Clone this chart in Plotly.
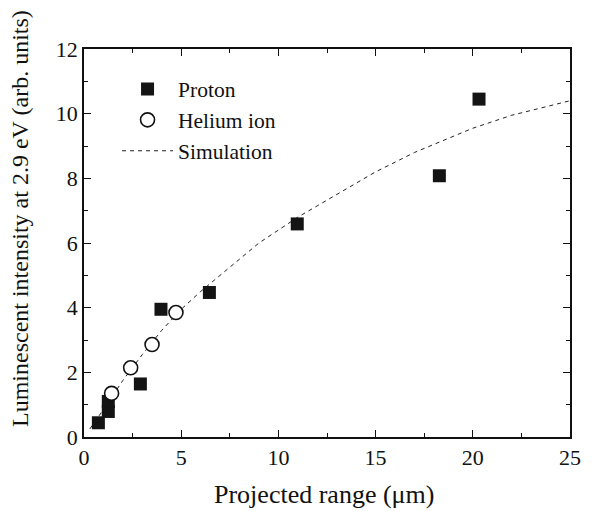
import plotly.graph_objects as go

# Data
proton_x = [0.74, 1.25, 1.25, 2.9, 3.96, 6.45, 10.97, 18.28, 20.32]
proton_y = [0.44, 0.79, 1.10, 1.64, 3.95, 4.47, 6.59, 8.08, 10.45]

helium_x = [1.42, 2.4, 3.5, 4.73]
helium_y = [1.35, 2.14, 2.86, 3.85]

sim_x = [0.3, 1, 2, 3, 4, 5, 6, 7, 8, 9, 10, 11, 12, 13, 14, 15, 16, 17, 18, 19, 20, 21, 22, 23, 24, 25]
sim_y = [0.25, 0.85, 1.75, 2.55, 3.3, 3.95, 4.5, 5.0, 5.5, 6.0, 6.4, 6.8, 7.15, 7.5, 7.85, 8.2, 8.5,
         8.8, 9.05, 9.3, 9.55, 9.75, 9.95, 10.1, 10.25, 10.4]

x_ticks = [0, 5, 10, 15, 20, 25]
y_ticks = [0, 2, 4, 6, 8, 10, 12]

x_title = "Projected range (μm)"
y_title = "Luminescent intensity at 2.9 eV (arb. units)"

FONT = "Liberation Serif, Times New Roman, serif"

fig = go.Figure()
fig.add_trace(go.Scatter(
    x=sim_x, y=sim_y, mode="lines", name="Simulation", legendrank=3,
    line=dict(color="#222", width=1, dash="4px,4px"), legendgroup="c"))
fig.add_trace(go.Scatter(
    x=proton_x, y=proton_y, mode="markers", name="Proton", legendrank=1,
    marker=dict(symbol="square", size=13, color="#141414", line=dict(width=0)), legendgroup="a"))
fig.add_trace(go.Scatter(
    x=helium_x, y=helium_y, mode="markers", name="Helium ion", legendrank=2,
    marker=dict(symbol="circle", size=14, color="white", line=dict(width=1.6, color="#111")),
    legendgroup="b"))

axis_common = dict(
    showline=True, linecolor="#111", linewidth=1.5, mirror="allticks",
    ticks="inside", ticklen=7, tickwidth=1.2, tickcolor="#111",
    showgrid=False, zeroline=False,
    tickfont=dict(family=FONT, size=22, color="#111"),
)

fig.update_xaxes(
    range=[0, 25], tickvals=x_ticks, ticktext=[str(v) for v in x_ticks],
    minor=dict(ticks="inside", ticklen=4, tickwidth=1, tickcolor="#111", dtick=2.5, tick0=0),
    **axis_common)
fig.update_yaxes(
    range=[0, 12], tickvals=y_ticks, ticktext=[str(v) for v in y_ticks],
    minor=dict(ticks="inside", ticklen=4, tickwidth=1, tickcolor="#111", dtick=1, tick0=0),
    **axis_common)

fig.add_annotation(text=x_title, xref="paper", yref="paper", x=0.4928, y=-0.147,
                   xanchor="center", yanchor="middle", showarrow=False,
                   font=dict(family=FONT, size=26, color="#111"))
fig.add_annotation(text=y_title, xref="paper", yref="paper", x=-0.1317, y=0.5644,
                   xanchor="center", yanchor="middle", showarrow=False, textangle=-90,
                   font=dict(family=FONT, size=24, color="#111"))

# page body has an 8px margin, so the figure is shrunk and offset accordingly
fig.update_layout(
    width=584, height=503,
    margin=dict(l=76, r=22, t=41, b=74, autoexpand=False),
    plot_bgcolor="white", paper_bgcolor="white",
    font=dict(family=FONT, color="#111"),
    legend=dict(x=0.068, y=0.95, xanchor="left", yanchor="top",
                font=dict(family=FONT, size=21.5, color="#111"),
                bgcolor="rgba(0,0,0,0)", tracegroupgap=0, traceorder="grouped",
                itemwidth=51),
)

fig.write_html("out.html")
